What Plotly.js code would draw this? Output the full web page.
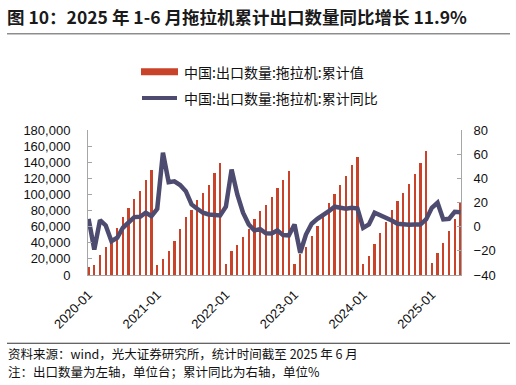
<!DOCTYPE html>
<html>
<head>
<meta charset="utf-8">
<script src="https://cdn.plot.ly/plotly-3.0.1.min.js"></script>
<style>
html,body{margin:0;padding:0;background:#fff;}
#chart{width:516px;height:385px;}
</style>
</head>
<body>
<div id="chart"></div>
<script>
// ---- data ----
var months = [
 '2020-01','2020-02','2020-03','2020-04','2020-05','2020-06','2020-07','2020-08','2020-09','2020-10','2020-11','2020-12',
 '2021-01','2021-02','2021-03','2021-04','2021-05','2021-06','2021-07','2021-08','2021-09','2021-10','2021-11','2021-12',
 '2022-01','2022-02','2022-03','2022-04','2022-05','2022-06','2022-07','2022-08','2022-09','2022-10','2022-11','2022-12',
 '2023-01','2023-02','2023-03','2023-04','2023-05','2023-06','2023-07','2023-08','2023-09','2023-10','2023-11','2023-12',
 '2024-01','2024-02','2024-03','2024-04','2024-05','2024-06','2024-07','2024-08','2024-09','2024-10','2024-11','2024-12',
 '2025-01','2025-02','2025-03','2025-04','2025-05','2025-06'
];
var exportQty = [
 10000, 12400, 25300, 34400, 46000, 58800, 72500, 82800, 94000, 104200, 117900, 130300,
 12000, 20300, 30300, 42800, 56600, 71700, 81300, 92500, 101500, 111400, 126300, 139600,
 13900, 30000, 37000, 46900, 57300, 69700, 80000, 87500, 97000, 108600, 118100, 128800,
 13900, 26000, 34500, 48100, 61400, 71700, 89600, 100800, 111900, 123500, 137100, 146700,
 13900, 23300, 38700, 52700, 66000, 80400, 91600, 101500, 113200, 125600, 139200, 154500,
 15100, 27600, 40300, 55200, 70000, 89600
];
var yoyPct = [
 6.5, -18.9, 5.4, 1.0, -12.0, -9.2, -0.9, 3.7, 7.9, 8.2, 11.5, 8.7,
 14.8, 61.2, 36.8, 37.5, 34.5, 29.4, 18.4, 14.8, 11.5, 10.1, 9.5, 9.3,
 16.5, 47.3, 26.6, 11.5, 1.8, -3.1, -2.0, -5.5, -5.6, -3.1, -7.0, -7.3,
 1.8, -21.6, -6.5, 2.4, 6.5, 9.3, 12.8, 16.5, 15.6, 14.8, 15.6, 15.0,
 -1.0, 1.8, 11.5, 9.5, 7.4, 5.1, 2.4, 1.8, 1.6, 1.8, 1.8, 6.0,
 15.6, 19.8, 6.0, 6.5, 12.3, 11.9
];
var tickLabels = ['2020-01','2021-01','2022-01','2023-01','2024-01','2025-01'];
var seriesNames = ['中国:出口数量:拖拉机:累计值', '中国:出口数量:拖拉机:累计同比'];
var titleText = '图 10：2025 年 1-6 月拖拉机累计出口数量同比增长 11.9%';
var sourceLines = ['资料来源：wind，光大证券研究所，统计时间截至 2025 年 6 月',
                   '注：出口数量为左轴，单位台；累计同比为右轴，单位%'];

// ---- style ----
var W = 516, H = 385;
var L = 88, R = 461, T = 130, B = 275.5;
var barColor = '#C8432A', lineColor = '#4D4B70', axisColor = '#A6A6A6';
var latin = 'Liberation Sans, Arial, Noto Sans CJK SC, sans-serif';
var cjk = 'Noto Sans CJK SC, Liberation Sans, sans-serif';
function px(x){ return (x - L) / (R - L); }
function py(y){ return (B - y) / (B - T); }

var traces = [
  {type:'bar', x:months, y:exportQty, name:seriesNames[0], yaxis:'y',
   marker:{color:barColor}, width:0.4, showlegend:false, hoverinfo:'skip'},
  {type:'scatter', mode:'lines', x:months, y:yoyPct, name:seriesNames[1], yaxis:'y2',
   line:{color:lineColor, width:4.5}, showlegend:false, hoverinfo:'skip'}
];

var layout = {
  width:W, height:H,
  margin:{l:L, r:W-R, t:T, b:H-B, pad:0},
  paper_bgcolor:'#fff', plot_bgcolor:'#fff',
  font:{family:latin, size:13, color:'#111'},
  showlegend:false,
  bargap:0,
  title:{text:titleText, xref:'container', yref:'container', x:7/W, xanchor:'left',
         y:1-18/H, yanchor:'middle', font:{family:cjk, size:17.5, weight:'bold', color:'#1a1a1a'}},
  xaxis:{type:'category', range:[-0.1, 65.1], showgrid:false, zeroline:false,
         showline:true, linecolor:axisColor, linewidth:1, ticks:'',
         tickmode:'array', tickvals:tickLabels, ticktext:tickLabels, tickangle:-45,
         ticklabelstandoff:6, tickfont:{family:latin, size:13, color:'#111'}},
  yaxis:{range:[0,180000], dtick:20000, tickformat:',d', showgrid:false, zeroline:false,
         showline:true, linecolor:axisColor, linewidth:1, ticks:'inside', ticklen:4, tickcolor:axisColor,
         ticklabelstandoff:14, tickfont:{family:latin, size:13, color:'#111'}},
  yaxis2:{range:[-40,80], dtick:20, overlaying:'y', side:'right', showgrid:false, zeroline:false,
          showline:true, linecolor:axisColor, linewidth:1, ticks:'inside', ticklen:4, tickcolor:axisColor,
          ticklabelstandoff:9, tickfont:{family:latin, size:13, color:'#111'}},
  shapes:[
    {type:'line', xref:'paper', yref:'paper', x0:px(7), x1:px(510), y0:py(33.5), y1:py(33.5),
     line:{color:'#555', width:1}},
    {type:'line', xref:'paper', yref:'paper', x0:px(7), x1:px(510), y0:py(344), y1:py(344),
     line:{color:'#333', width:1}},
    {type:'line', xref:'paper', yref:'paper', x0:px(141), x1:px(178), y0:py(71.5), y1:py(71.5),
     line:{color:barColor, width:7}},
    {type:'line', xref:'paper', yref:'paper', x0:px(142), x1:px(177), y0:py(98), y1:py(98),
     line:{color:lineColor, width:4}}
  ],
  annotations:[
    {xref:'paper', yref:'paper', x:px(182), y:py(72), xanchor:'left', yanchor:'middle', showarrow:false,
     text:seriesNames[0], font:{family:cjk, size:14, color:'#111'}},
    {xref:'paper', yref:'paper', x:px(182), y:py(98), xanchor:'left', yanchor:'middle', showarrow:false,
     text:seriesNames[1], font:{family:cjk, size:14, color:'#111'}},
    {xref:'paper', yref:'paper', x:px(6), y:py(354), xanchor:'left', yanchor:'middle', showarrow:false,
     text:sourceLines[0], font:{family:cjk, size:12.5, color:'#111'}},
    {xref:'paper', yref:'paper', x:px(6), y:py(372.5), xanchor:'left', yanchor:'middle', showarrow:false,
     text:sourceLines[1], font:{family:cjk, size:12.5, color:'#111'}}
  ]
};

Plotly.newPlot('chart', traces, layout, {staticPlot:true, displayModeBar:false});
</script>
</body>
</html>
